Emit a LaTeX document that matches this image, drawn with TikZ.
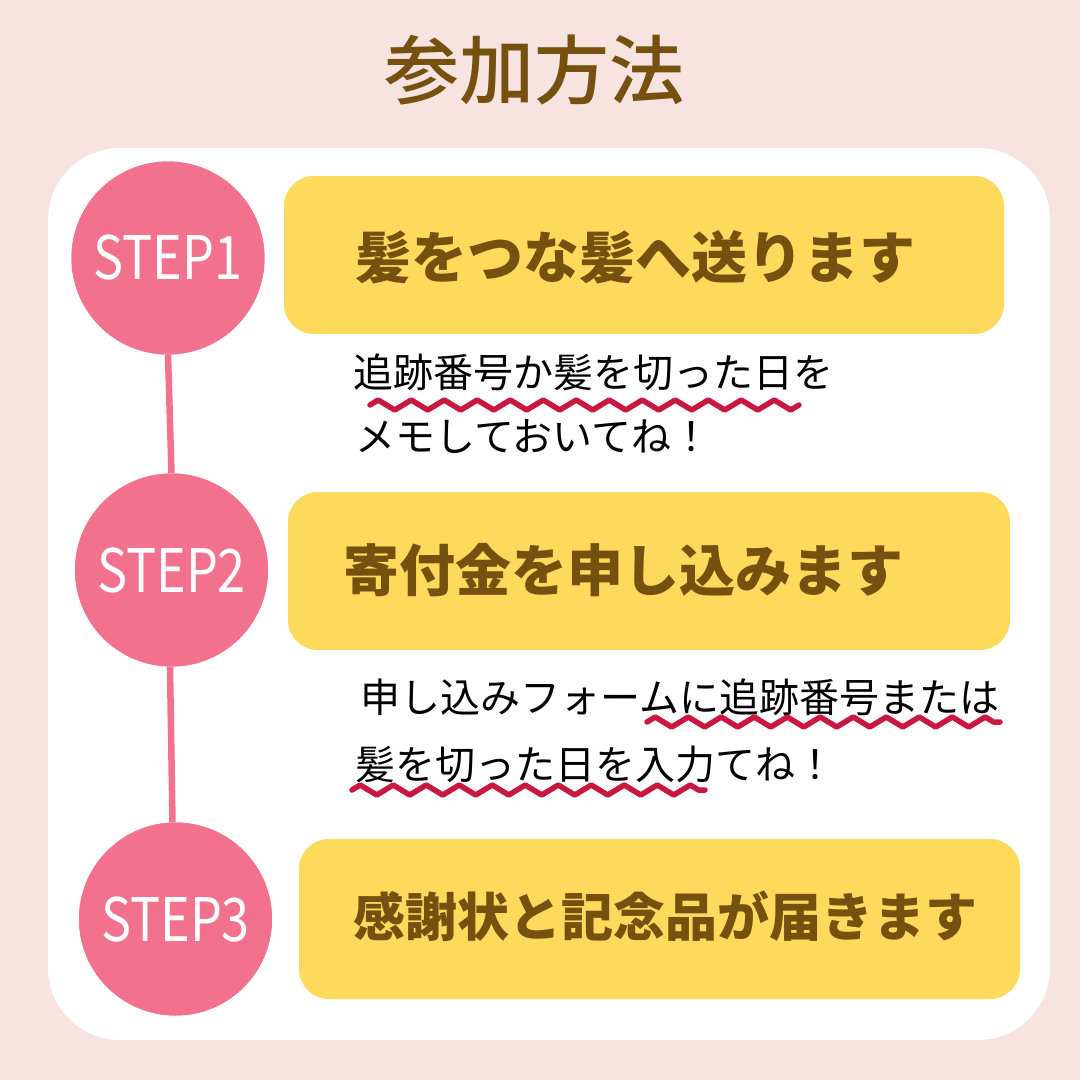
\documentclass[tikz,border=0pt]{standalone}
\usepackage{fontspec}
\usetikzlibrary{decorations.pathmorphing}
\newfontfamily\jp{Noto Sans CJK JP}
\newfontfamily\jpm{Noto Sans CJK JP Medium}
\newfontfamily\steplbl{Noto Sans CJK JP}[FakeStretch=0.84]
\definecolor{bgpink}{HTML}{F7E3DF}
\definecolor{stepink}{HTML}{F2728E}
\definecolor{boxyel}{HTML}{FDDA5B}
\definecolor{brown}{HTML}{75500F}
\definecolor{wavered}{HTML}{C9173F}
\tikzset{
  stepcircle/.style={circle, fill=stepink, minimum size=193pt, inner sep=0pt, text=white, font=\steplbl\fontsize{60}{60}\selectfont},
  yelbox/.style={fill=boxyel, rounded corners=30pt},
  boxtext/.style={anchor=west, inner sep=0pt, text=brown, font=\jp\bfseries\fontsize{56}{56}\selectfont},
  notetext/.style={anchor=west, inner sep=0pt, text=black, font=\jp\fontsize{40}{40}\selectfont},
  linkline/.style={draw=stepink, line width=6.5pt},
  wave/.style={draw=wavered, line width=5.5pt, line join=round, line cap=round, decorate, decoration={zigzag, segment length=33pt, amplitude=5pt}}
}
\begin{document}
\begin{tikzpicture}[x=1pt,y=-1pt]
\fill[bgpink] (0,0) rectangle (1080,1080);
\useasboundingbox (0,0) rectangle (1080,1080);
\node[text=brown, font=\jpm\fontsize{75}{75}\selectfont, inner sep=0pt] (title) at (534,70) {参加方法};
\fill[white, rounded corners=72pt] (48,148) rectangle (1050,1040);
% connectors first
\node[stepcircle] (s1) at (168,258) {};
\node[stepcircle] (s2) at (171.5,570) {};
\node[stepcircle] (s3) at (175.5,919) {};
\draw[linkline] (s1.south) -- (s2.north);
\draw[linkline] ([xshift=-1.5pt]s2.south) -- ([xshift=-3pt]s3.north);
\node[stepcircle] at (s1) {STEP1};
\node[stepcircle] at (s2) {STEP2};
\node[stepcircle] at (s3) {STEP3};
% boxes
\fill[yelbox] (284,176) rectangle (1004,334);
\fill[yelbox] (288,492) rectangle (1010,650);
\fill[yelbox] (299,839) rectangle (1020,999);
\node[boxtext] (b1) at (355,257) {髪をつな髪へ送ります};
\node[boxtext] (b2) at (343,570) {寄付金を申し込みます};
\node[boxtext, font=\jp\bfseries\fontsize{52}{52}\selectfont] (b3) at (353,916) {感謝状と記念品が届きます};
% notes
\node[notetext] (n1a) at (353,372) {追跡番号か髪を切った日を};
\node[notetext] (n1b) at (355,437) {メモしておいてね！};
\node[notetext] (n2a) at (360,697) {申し込みフォームに追跡番号または};
\node[notetext] (n2b) at (355,764) {髪を切った日を入力てね！};
% wavy underlines
\coordinate (w1s) at (370,405);
\coordinate (w1e) at (799,405);
\coordinate (w2s) at (647,722);
\coordinate (w2e) at (1000,722);
\coordinate (w3s) at (352,790);
\coordinate (w3e) at (705,790);
\draw[wave] (w1s) -- (w1e);
\draw[wave] (w2s) -- (w2e);
\draw[wave] (w3s) -- (w3e);
\end{tikzpicture}
\end{document}
